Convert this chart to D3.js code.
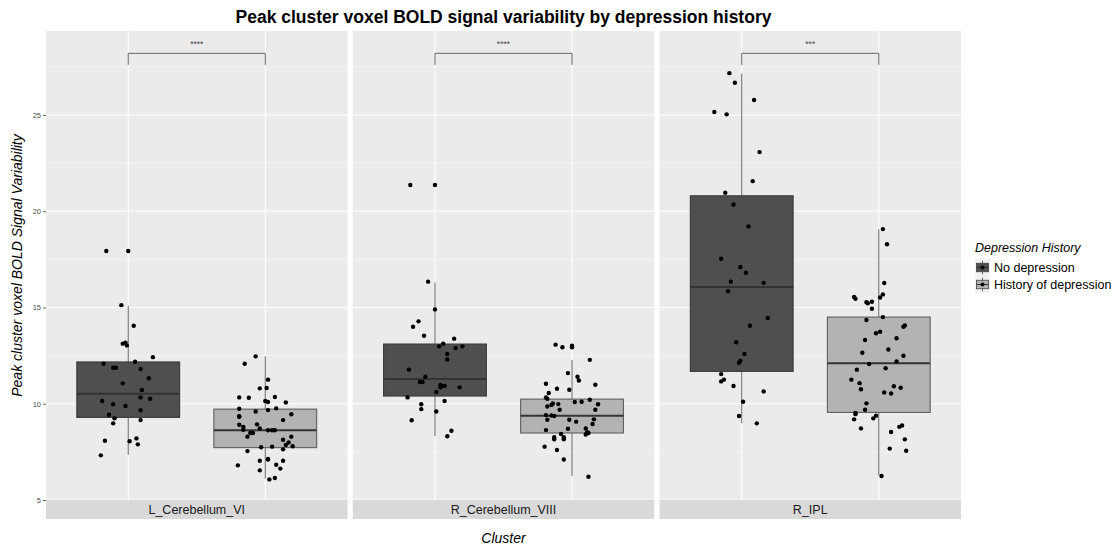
<!DOCTYPE html>
<html>
<head>
<meta charset="utf-8">
<script src="https://cdn.jsdelivr.net/npm/d3@7"></script>
<style>
  html, body { margin: 0; padding: 0; background: #ffffff; }
  svg { display: block; font-family: "Liberation Sans", Arial, sans-serif; }
</style>
</head>
<body>
<svg id="chart" width="1117" height="548"></svg>
<script>
// ---- data -------------------------------------------------------------
const clusters = ["L_Cerebellum_VI", "R_Cerebellum_VIII", "R_IPL"];
const groups = ["No depression", "History of depression"];
const sigLabels = ["****", "****", "***"];
const yTicks = [5, 10, 15, 20, 25];
const bracketValue = 28.2;   // height of the comparison bracket
const bracketTip = 27.6;     // lower end of the bracket legs

// summary per box: [lower whisker, Q1, median, Q3, upper whisker]
const boxLCbNoDep  = [7.34, 9.29, 10.52, 12.17, 15.09];
const boxLCbHist   = [6.11, 7.72, 8.62, 9.72, 12.46];
const boxRCbNoDep  = [8.32, 10.40, 11.28, 13.10, 16.30];
const boxRCbHist   = [6.25, 8.48, 9.38, 10.24, 12.27];
const boxIPLNoDep  = [8.98, 11.68, 16.06, 20.80, 27.15];
const boxIPLHist   = [6.28, 9.55, 12.10, 14.50, 19.06];

// individual participants: [value, horizontal jitter in category units]
const ptsLCbNoDep = [
  [17.93,-0.16],[17.93,0.00],[15.12,-0.05],[14.05,0.04],[13.12,-0.04],[13.17,-0.02],
  [13.03,-0.01],[12.08,-0.18],[11.87,-0.11],[11.87,-0.09],[12.18,0.05],[12.42,0.18],
  [11.80,0.09],[11.32,0.15],[11.06,-0.04],[10.71,0.10],[10.33,0.09],[10.26,0.16],
  [10.14,-0.19],[9.97,-0.11],[9.88,-0.02],[9.66,0.09],[9.43,-0.14],[9.24,-0.10],
  [9.15,0.09],[8.98,-0.11],[8.08,-0.17],[8.05,0.01],[8.20,0.06],[7.89,0.07],[7.32,-0.20]
];
const ptsLCbHist = [
  [12.46,-0.07],[12.08,-0.15],[11.25,0.02],[10.80,-0.04],[10.82,0.01],[10.33,-0.19],
  [10.31,-0.12],[10.35,0.07],[10.14,0.00],[10.09,0.02],[10.07,0.15],[9.74,-0.19],
  [9.60,-0.07],[9.67,0.02],[9.76,0.08],[9.45,0.19],[9.35,-0.19],[9.32,-0.19],
  [9.15,0.13],[8.91,-0.19],[8.79,-0.16],[8.65,-0.16],[8.93,-0.06],[8.72,-0.04],
  [8.48,-0.11],[8.48,-0.09],[8.48,-0.10],[8.29,-0.13],[8.62,0.02],[8.62,0.05],
  [8.62,0.07],[8.29,0.19],[8.13,0.13],[7.99,0.17],[7.86,0.15],[7.79,0.20],
  [7.63,0.13],[7.74,-0.03],[7.77,0.05],[7.54,-0.13],[7.13,0.02],[7.10,0.02],
  [7.04,-0.04],[7.04,0.13],[6.80,-0.20],[6.83,0.08],[6.54,-0.04],[6.63,0.11],
  [6.07,0.03],[6.14,0.07]
];
const ptsRCbNoDep = [
  [21.36,-0.18],[21.36,0.00],[16.34,-0.05],[14.90,0.00],[14.00,-0.16],[14.28,-0.12],
  [13.53,-0.08],[13.38,0.14],[13.12,0.06],[12.98,0.03],[12.89,0.15],[12.98,0.20],
  [12.58,0.09],[12.30,0.09],[11.77,-0.19],[11.40,-0.07],[11.13,-0.11],[11.13,-0.09],
  [10.97,0.04],[10.93,0.05],[10.93,0.07],[10.85,0.04],[10.85,0.18],[10.61,0.01],
  [10.33,-0.20],[10.14,0.07],[9.97,-0.10],[9.72,-0.10],[9.60,0.01],[9.14,-0.17],
  [8.60,0.12],[8.31,0.09]
];
const ptsRCbHist = [
  [13.07,-0.12],[12.93,-0.07],[13.01,0.00],[12.93,0.00],[12.28,0.13],[11.59,-0.03],
  [11.40,0.04],[11.21,0.05],[10.99,0.17],[11.04,-0.19],[10.78,-0.11],[10.73,-0.02],
  [10.56,-0.17],[10.33,-0.19],[10.26,-0.18],[10.21,0.13],[10.10,0.07],[10.09,0.02],
  [9.97,0.19],[9.98,-0.10],[10.01,-0.14],[9.94,-0.15],[9.86,-0.18],[9.69,-0.09],
  [9.69,0.17],[9.41,-0.19],[9.39,-0.15],[9.36,-0.13],[9.17,-0.18],[9.17,-0.02],
  [9.07,0.03],[9.19,0.16],[8.95,0.15],[8.63,-0.19],[8.70,-0.03],[8.72,0.10],
  [8.52,0.11],[8.40,0.10],[8.48,0.12],[8.43,-0.08],[8.26,-0.13],[8.15,-0.13],
  [8.26,-0.06],[8.15,-0.06],[7.77,-0.20],[7.60,-0.11],[7.10,-0.06],[6.21,0.12]
];
const ptsIPLNoDep = [
  [27.17,-0.09],[26.67,-0.05],[25.78,0.09],[25.15,-0.20],[25.03,-0.11],[23.07,0.13],
  [21.56,0.08],[20.96,-0.12],[20.35,-0.06],[19.21,0.05],[17.53,-0.15],[17.10,-0.01],
  [16.80,0.03],[16.34,-0.08],[16.28,0.16],[15.84,-0.10],[14.45,0.19],[14.05,0.06],
  [13.19,-0.04],[12.58,0.02],[12.23,-0.01],[12.13,-0.02],[11.54,-0.15],[11.25,-0.13],
  [11.16,-0.15],[10.92,-0.06],[10.64,0.16],[10.10,0.01],[9.36,-0.02],[8.98,0.11]
];
const ptsIPLHist = [
  [19.07,0.03],[18.28,0.06],[16.27,0.04],[15.68,0.03],[15.52,0.01],[15.54,-0.18],
  [15.45,-0.17],[15.27,-0.09],[15.22,-0.08],[15.30,-0.05],[14.93,-0.05],[14.50,0.03],
  [14.35,-0.09],[14.00,0.18],[14.06,0.19],[13.66,-0.02],[13.74,0.01],[13.31,-0.10],
  [13.40,0.13],[12.82,0.07],[12.65,-0.12],[12.49,0.18],[12.20,0.13],[12.06,-0.07],
  [11.77,-0.16],[11.84,0.05],[11.25,-0.20],[11.07,-0.14],[10.75,-0.13],[10.91,0.11],
  [10.83,0.16],[10.59,0.04],[10.53,0.09],[10.02,-0.09],[9.69,-0.10],[9.52,-0.17],
  [9.46,-0.17],[9.19,-0.18],[9.38,-0.02],[9.24,-0.04],[8.72,-0.13],[8.87,0.17],
  [8.80,0.15],[8.53,0.09],[8.15,0.19],[7.67,0.08],[7.56,0.20],[6.25,0.02]
];

const boxes = [
  [boxLCbNoDep, boxLCbHist],
  [boxRCbNoDep, boxRCbHist],
  [boxIPLNoDep, boxIPLHist]
];
const points = [
  [ptsLCbNoDep, ptsLCbHist],
  [ptsRCbNoDep, ptsRCbHist],
  [ptsIPLNoDep, ptsIPLHist]
];

// ---- styling ----------------------------------------------------------
const fills = ["#4f4f4f", "#b3b3b3"];
const panelBg = "#ebebeb";
const stripBg = "#d9d9d9";

// ---- layout -----------------------------------------------------------
const svg = d3.select("#chart");
const plotLeft = 46, plotRight = 961, plotTop = 31, plotBottom = 500;
const stripH = 19;

const facetX = d3.scaleBand()
  .domain(clusters)
  .range([plotLeft, plotRight])
  .paddingInner(0.0171)
  .paddingOuter(0);

const innerX = d3.scaleLinear()
  .domain([0.4, 2.6])
  .range([0, facetX.bandwidth()]);

const y = d3.scaleLinear()
  .domain([5, 29.36])
  .range([plotBottom, plotTop]);

const minorTicks = d3.range(7.5, 29, 5);
const boxWidth = 0.75;

// ---- title ------------------------------------------------------------
svg.append("text")
  .attr("x", (plotLeft + plotRight) / 2)
  .attr("y", 23)
  .attr("text-anchor", "middle")
  .attr("font-size", 17.5)
  .attr("font-weight", "bold")
  .attr("fill", "#000")
  .text("Peak cluster voxel BOLD signal variability by depression history");

// ---- panels -----------------------------------------------------------
clusters.forEach((cl, ci) => {
  const g = svg.append("g").attr("transform", `translate(${facetX(cl)},0)`);
  const w = facetX.bandwidth();

  g.append("rect")
    .attr("x", 0).attr("y", plotTop)
    .attr("width", w).attr("height", plotBottom - plotTop)
    .attr("fill", panelBg);

  // grid
  g.selectAll(".minor").data(minorTicks).join("line")
    .attr("x1", 0).attr("x2", w)
    .attr("y1", d => y(d)).attr("y2", d => y(d))
    .attr("stroke", "#f7f7f7").attr("stroke-width", 0.6);
  g.selectAll(".major").data(yTicks).join("line")
    .attr("x1", 0).attr("x2", w)
    .attr("y1", d => y(d)).attr("y2", d => y(d))
    .attr("stroke", "#ffffff").attr("stroke-width", 1.1);
  g.selectAll(".vgrid").data([1, 2]).join("line")
    .attr("x1", d => innerX(d)).attr("x2", d => innerX(d))
    .attr("y1", plotTop).attr("y2", plotBottom)
    .attr("stroke", "#ffffff").attr("stroke-width", 1.1);

  // boxplots
  groups.forEach((grp, gi) => {
    const s = boxes[ci][gi];
    const cx = innerX(gi + 1);
    const x0 = innerX(gi + 1 - boxWidth / 2), x1 = innerX(gi + 1 + boxWidth / 2);
    const bg = g.append("g");
    bg.append("line")
      .attr("x1", cx).attr("x2", cx)
      .attr("y1", y(s[4])).attr("y2", y(s[3]))
      .attr("stroke", "#666").attr("stroke-width", 1);
    bg.append("line")
      .attr("x1", cx).attr("x2", cx)
      .attr("y1", y(s[1])).attr("y2", y(s[0]))
      .attr("stroke", "#666").attr("stroke-width", 1);
    bg.append("rect")
      .attr("x", x0).attr("y", y(s[3]))
      .attr("width", x1 - x0).attr("height", y(s[1]) - y(s[3]))
      .attr("fill", fills[gi])
      .attr("stroke", gi === 0 ? "#3a3a3a" : "#5e5e5e")
      .attr("stroke-width", 1.1);
    bg.append("line")
      .attr("x1", x0).attr("x2", x1)
      .attr("y1", y(s[2])).attr("y2", y(s[2]))
      .attr("stroke", "#333").attr("stroke-width", 2);
  });

  // jittered participants
  groups.forEach((grp, gi) => {
    g.append("g").selectAll("circle").data(points[ci][gi]).join("circle")
      .attr("cx", d => innerX(gi + 1 + d[1]))
      .attr("cy", d => y(d[0]))
      .attr("r", 2.2)
      .attr("fill", "#000");
  });

  // significance bracket
  const bx0 = innerX(1), bx1 = innerX(2);
  g.append("path")
    .attr("d", `M${bx0},${y(bracketTip)}V${y(bracketValue)}H${bx1}V${y(bracketTip)}`)
    .attr("fill", "none").attr("stroke", "#666").attr("stroke-width", 1);
  g.append("text")
    .attr("x", (bx0 + bx1) / 2)
    .attr("y", y(bracketValue) - 6)
    .attr("text-anchor", "middle")
    .attr("font-size", 8.5)
    .attr("fill", "#444")
    .text(sigLabels[ci]);

  // strip below the panel
  g.append("rect")
    .attr("x", 0).attr("y", plotBottom)
    .attr("width", w).attr("height", stripH)
    .attr("fill", stripBg);
  g.append("text")
    .attr("x", w / 2).attr("y", plotBottom + stripH / 2 + 4.5)
    .attr("text-anchor", "middle")
    .attr("font-size", 12.5)
    .attr("fill", "#1a1a1a")
    .text(cl);
});

// ---- y axis -----------------------------------------------------------
const yAxis = d3.axisLeft(y).tickValues(yTicks).tickSize(3).tickPadding(2);
const ya = svg.append("g")
  .attr("transform", `translate(${plotLeft},0)`)
  .call(yAxis);
ya.select(".domain").remove();
ya.selectAll(".tick line").attr("stroke", "#333").attr("stroke-width", 0.8);
ya.selectAll(".tick text").attr("font-size", 7.5).attr("fill", "#4d4d4d")
  .attr("font-family", "Liberation Sans, Arial, sans-serif");

svg.append("text")
  .attr("transform", `translate(22,${(plotTop + plotBottom) / 2}) rotate(-90)`)
  .attr("text-anchor", "middle")
  .attr("font-size", 14)
  .attr("font-style", "italic")
  .attr("fill", "#000")
  .text("Peak cluster voxel BOLD Signal Variability");

svg.append("text")
  .attr("x", (plotLeft + plotRight) / 2)
  .attr("y", 543)
  .attr("text-anchor", "middle")
  .attr("font-size", 14)
  .attr("font-style", "italic")
  .attr("fill", "#000")
  .text("Cluster");

// ---- legend -----------------------------------------------------------
const lg = svg.append("g").attr("transform", "translate(975,240)");
lg.append("text")
  .attr("x", 0).attr("y", 12)
  .attr("font-size", 12.5)
  .attr("font-style", "italic")
  .attr("fill", "#000")
  .text("Depression History");

const keyH = 17, keyW = 15;
groups.forEach((grp, gi) => {
  const k = lg.append("g").attr("transform", `translate(0,${19 + gi * keyH})`);
  k.append("rect").attr("width", keyW).attr("height", keyH).attr("fill", "#f2f2f2");
  k.append("line")
    .attr("x1", keyW / 2).attr("x2", keyW / 2)
    .attr("y1", keyH * 0.1).attr("y2", keyH * 0.9)
    .attr("stroke", "#666");
  k.append("rect")
    .attr("x", keyW * 0.1).attr("y", keyH * 0.25)
    .attr("width", keyW * 0.8).attr("height", keyH * 0.5)
    .attr("fill", fills[gi]).attr("stroke", "#444").attr("stroke-width", 0.8);
  k.append("line")
    .attr("x1", keyW * 0.1).attr("x2", keyW * 0.9)
    .attr("y1", keyH / 2).attr("y2", keyH / 2)
    .attr("stroke", "#333").attr("stroke-width", 1);
  k.append("circle")
    .attr("cx", keyW / 2).attr("cy", keyH / 2).attr("r", 2).attr("fill", "#000");
  k.append("text")
    .attr("x", keyW + 4).attr("y", keyH / 2 + 4.5)
    .attr("font-size", 12.5)
    .attr("fill", "#000")
    .text(grp);
});
</script>
</body>
</html>
